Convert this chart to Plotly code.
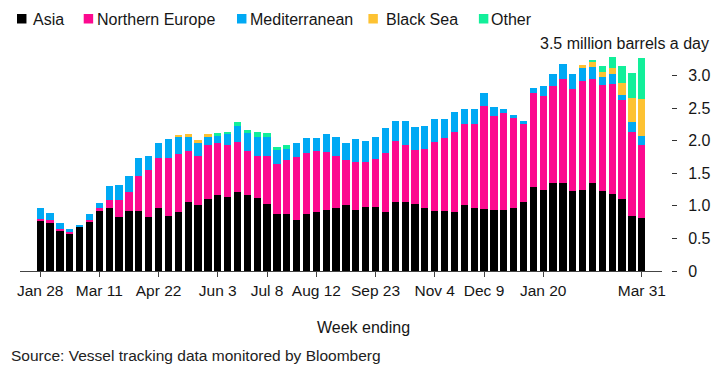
import pandas as pd
import plotly.graph_objects as go

weeks = pd.date_range("2022-01-28", periods=62, freq="7D")

asia = [0.78, 0.74, 0.62, 0.58, 0.67, 0.75, 0.92, 0.97, 0.83, 0.92,
        0.92, 0.83, 0.97, 0.85, 0.90, 1.06, 1.01, 1.11, 1.16, 1.14,
        1.21, 1.16, 1.12, 1.03, 0.88, 0.87, 0.79, 0.88, 0.90, 0.94,
        0.96, 1.01, 0.94, 0.99, 0.99, 0.90, 1.06, 1.06, 1.03, 0.97,
        0.92, 0.92, 0.90, 1.01, 0.97, 0.95, 0.93, 0.93, 0.97, 1.06,
        1.29, 1.25, 1.35, 1.35, 1.23, 1.25, 1.35, 1.23, 1.18, 1.11,
        0.85, 0.81]
northern_europe = [0.02, 0.04, 0.02, 0.03, 0.00, 0.04, 0.05, 0.12, 0.26, 0.30,
                   0.54, 0.72, 0.77, 0.89, 0.89, 0.78, 0.76, 0.83, 0.80, 0.79,
                   0.77, 0.68, 0.65, 0.74, 0.76, 0.83, 0.96, 0.93, 0.94, 0.89,
                   0.80, 0.70, 0.73, 0.68, 0.73, 0.91, 0.93, 0.87, 0.83, 0.90,
                   1.06, 1.12, 1.24, 1.24, 1.28, 1.59, 1.45, 1.49, 1.38, 1.20,
                   1.44, 1.43, 1.49, 1.59, 1.57, 1.66, 1.59, 1.62, 1.69, 1.52,
                   1.29, 1.12]
mediterranean = [0.16, 0.11, 0.09, 0.03, 0.04, 0.08, 0.07, 0.21, 0.23, 0.24,
                 0.28, 0.21, 0.22, 0.28, 0.27, 0.23, 0.21, 0.13, 0.12, 0.17,
                 0.25, 0.28, 0.29, 0.28, 0.22, 0.17, 0.21, 0.23, 0.20, 0.28,
                 0.29, 0.26, 0.35, 0.33, 0.33, 0.38, 0.31, 0.38, 0.35, 0.36,
                 0.35, 0.29, 0.30, 0.24, 0.24, 0.19, 0.14, 0.07, 0.05, 0.05,
                 0.08, 0.16, 0.19, 0.24, 0.22, 0.21, 0.19, 0.13, 0.15, 0.07,
                 0.14, 0.15]
black_sea = [0, 0, 0, 0, 0, 0, 0, 0, 0, 0,
             0, 0, 0, 0, 0.02, 0.03, 0.03, 0.03, 0, 0,
             0, 0, 0, 0, 0, 0, 0, 0, 0, 0,
             0, 0, 0, 0, 0, 0, 0, 0, 0, 0,
             0, 0, 0, 0, 0, 0, 0, 0, 0, 0,
             0, 0, 0, 0, 0, 0.05, 0.08, 0.07, 0.10, 0.19,
             0.38, 0.56]
other = [0, 0, 0, 0, 0, 0, 0, 0, 0, 0,
         0, 0, 0, 0, 0, 0, 0, 0, 0.04, 0.04,
         0.05, 0.05, 0.08, 0.07, 0.05, 0.06, 0, 0, 0, 0,
         0, 0, 0, 0, 0, 0, 0, 0, 0, 0,
         0, 0, 0, 0, 0, 0, 0, 0, 0, 0,
         0, 0, 0, 0, 0, 0, 0.03, 0.10, 0.16, 0.25,
         0.38, 0.63]

series_names = ["Asia", "Northern Europe", "Mediterranean", "Black Sea", "Other"]
series_values = [asia, northern_europe, mediterranean, black_sea, other]
colors = ["#000000", "#fc0a8f", "#00a9f4", "#fdc232", "#12ef9a"]

tick_dates = ["2022-01-28", "2022-03-11", "2022-04-22", "2022-06-03", "2022-07-08",
              "2022-08-12", "2022-09-23", "2022-11-04", "2022-12-09", "2023-01-20",
              "2023-03-31"]
tick_labels = ["Jan 28", "Mar 11", "Apr 22", "Jun 3", "Jul 8", "Aug 12", "Sep 23",
               "Nov 4", "Dec 9", "Jan 20", "Mar 31"]
y_ticks = [0, 0.5, 1.0, 1.5, 2.0, 2.5, 3.0]
y_tick_labels = ["0", "0.5", "1.0", "1.5", "2.0", "2.5", "3.0"]
y_top = 3.5
y_top_label = "3.5 million barrels a day"

# page body has an 8px margin, so the figure is placed at (8, 8)
OFF = 8
W, H = 715, 363
ML, MR, MT, MB = 9, 52, 35, 100
PW = W - ML - MR
PH = H - MT - MB

def px(x):  # window pixel -> paper x
    return (x - OFF - ML) / PW

def py(y):  # window pixel -> paper y
    return (H - MB - (y - OFF)) / PH

FONT = "Liberation Sans, Arial, sans-serif"
TXT = "#161616"

fig = go.Figure()
bar_w = 5.15 * 86400000
for name, vals, col in zip(series_names, series_values, colors):
    fig.add_trace(go.Bar(x=weeks, y=vals, name=name, marker_color=col,
                         marker_line_width=0, width=bar_w, showlegend=False))

# manual legend
leg = [(14, 28), (81, 92), (235, 246), (367, 383), (478, 488.5)]
for (sx, tx), name, col in zip(leg, series_names, colors):
    fig.add_shape(type="rect", xref="paper", yref="paper",
                  x0=px(sx), x1=px(sx + 9.5), y0=py(23.5), y1=py(14),
                  fillcolor=col, line_width=0)
    fig.add_annotation(text=name, xref="paper", yref="paper", x=px(tx), y=py(19.5),
                       xanchor="left", yanchor="middle", showarrow=False,
                       font=dict(family=FONT, size=16, color=TXT))

fig.add_annotation(text=y_top_label, xref="paper", yref="y", x=px(711), y=y_top,
                   xanchor="right", yanchor="middle", showarrow=False,
                   font=dict(family=FONT, size=16, color=TXT))
fig.add_annotation(text="Week ending", xref="paper", yref="paper", x=px(362), y=py(327),
                   xanchor="center", yanchor="middle", showarrow=False,
                   font=dict(family=FONT, size=16, color=TXT))
fig.add_annotation(text="Source: Vessel tracking data monitored by Bloomberg",
                   xref="paper", yref="paper", x=px(6), y=py(355),
                   xanchor="left", yanchor="middle", showarrow=False,
                   font=dict(family=FONT, size=15.5, color="#222222"))

fig.update_layout(
    width=W, height=H, margin=dict(l=ML, r=MR, t=MT, b=MB),
    barmode="stack", bargap=0.27,
    plot_bgcolor="white", paper_bgcolor="white",
    font=dict(family=FONT, size=15, color=TXT),
    xaxis=dict(type="date", domain=[0, (662 - OFF - ML) / PW],
               range=["2022-01-13 16:00", "2023-04-14 08:00"],
               tickvals=tick_dates, ticktext=tick_labels,
               ticks="outside", ticklen=5, tickcolor="#444444", tickwidth=1,
               showline=True, linecolor="#444444", linewidth=1,
               showgrid=False, zeroline=False,
               tickfont=dict(family=FONT, size=15.5, color=TXT)),
    yaxis=dict(range=[0, 3.5], side="right", anchor="free", position=1.0,
               tickvals=y_ticks, ticktext=y_tick_labels,
               ticks="outside", ticklen=5, tickcolor="#333333", tickwidth=1,
               ticklabelstandoff=8,
               showline=False, showgrid=False, zeroline=False,
               tickfont=dict(family=FONT, size=16, color=TXT)),
)

fig.write_html("out.html")
